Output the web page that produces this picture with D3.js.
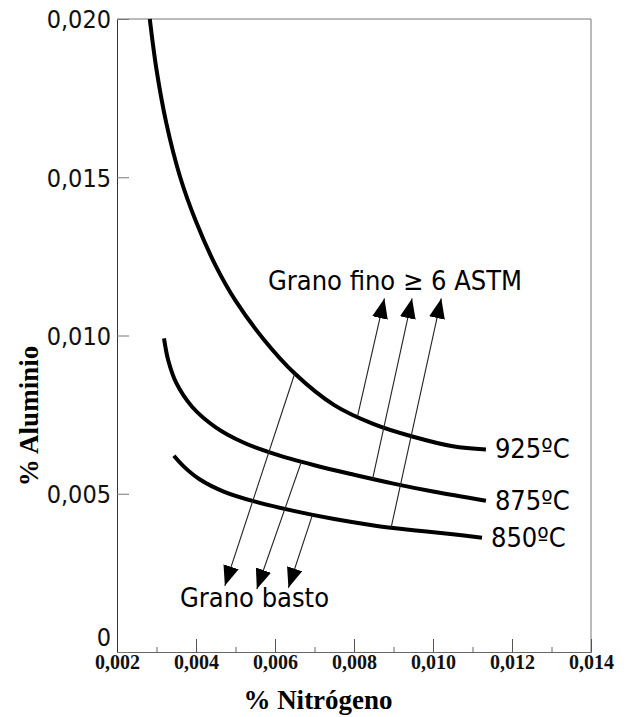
<!DOCTYPE html>
<html>
<head>
<meta charset="utf-8">
<script src="https://cdn.jsdelivr.net/npm/d3@7"></script>
<style>
  body { margin: 0; background: #fff; }
  svg { display: block; }
  .sans { font-family: "DejaVu Sans Condensed", "DejaVu Sans", sans-serif; font-stretch: condensed; }
  .serif { font-family: "Liberation Serif", "Times New Roman", serif; font-weight: bold; }
</style>
</head>
<body>
<svg width="632" height="717"></svg>
<script>
// curves: % N vs % Al
var n925 = [0.00283, 0.00300, 0.00325, 0.00360, 0.00400, 0.00450, 0.00500, 0.00570, 0.00650, 0.00750, 0.00850, 0.00950, 0.01050, 0.01134];
var al925 = [0.0200, 0.0184, 0.0167, 0.0150, 0.0136, 0.0122, 0.0111, 0.0099, 0.0088, 0.0078, 0.0072, 0.0068, 0.0065, 0.0064];
var n875 = [0.00319, 0.00330, 0.00350, 0.00390, 0.00450, 0.00520, 0.00600, 0.00700, 0.00800, 0.00900, 0.01000, 0.01134];
var al875 = [0.00991, 0.00920, 0.00850, 0.00775, 0.00710, 0.00662, 0.00625, 0.00590, 0.00560, 0.00532, 0.00507, 0.00478];
var n850 = [0.00344, 0.00370, 0.00410, 0.00470, 0.00550, 0.00650, 0.00750, 0.00850, 0.00950, 0.01050, 0.01124];
var al850 = [0.00620, 0.00585, 0.00545, 0.00507, 0.00475, 0.00445, 0.00420, 0.00400, 0.00385, 0.00372, 0.00361];
var curveNames = ["925ºC", "875ºC", "850ºC"];

// arrows: start on a curve, end at the tip
var upFromN = [0.00809, 0.00847, 0.00894];
var upFromAl = [0.00745, 0.00546, 0.00393];
var upToN = [0.00877, 0.00947, 0.01021];
var upToAl = [0.01117, 0.01117, 0.01117];
var downFromN = [0.00650, 0.00667, 0.00695];
var downFromAl = [0.00880, 0.00602, 0.00434];
var downToN = [0.00473, 0.00554, 0.00634];
var downToAl = [0.00209, 0.00199, 0.00203];

var xTicks = [0.002, 0.004, 0.006, 0.008, 0.010, 0.012, 0.014];
var xTickLabels = ["0,002", "0,004", "0,006", "0,008", "0,010", "0,012", "0,014"];
var xMinorTicks = [0.003, 0.005, 0.007, 0.009, 0.011, 0.013];
var yTicks = [0, 0.005, 0.010, 0.015, 0.020];
var yTickLabels = ["0", "0,005", "0,010", "0,015", "0,020"];

var svg = d3.select("svg"),
	plotLeft = 117, plotRight = 591, plotTop = 19, plotBottom = 652;

var x = d3.scaleLinear().domain([0.002, 0.014]).range([plotLeft, plotRight]);
var y = d3.scaleLinear().domain([0, 0.020]).range([plotBottom, plotTop]);

// frame top and right
svg.append("path")
	.attr("d", "M" + plotLeft + "," + plotTop + "H" + plotRight + "V" + plotBottom)
	.attr("fill", "none")
	.attr("stroke", "#777")
	.attr("stroke-width", 1);

// x axis
var gx = svg.append("g")
	.attr("transform", "translate(0," + plotBottom + ")")
	.call(d3.axisBottom(x).tickValues(xMinorTicks).tickSize(-5).tickFormat(""));
gx.select(".domain").remove();
gx.selectAll("line").attr("stroke", "#666");

var gx2 = svg.append("g")
	.attr("transform", "translate(0," + plotBottom + ")")
	.call(d3.axisBottom(x).tickValues(xTicks).tickSize(-13).tickPadding(3)
		.tickFormat(function(d, i) { return xTickLabels[i]; }));
gx2.select(".domain").attr("stroke", "#666");
gx2.selectAll("line").attr("stroke", "#555");
gx2.selectAll("text")
	.attr("class", "serif")
	.attr("font-size", 20)
	.attr("fill", "#111");

// y axis
var gy = svg.append("g")
	.attr("transform", "translate(" + plotLeft + ",0)")
	.call(d3.axisLeft(y).tickValues(yTicks).tickSize(-12).tickPadding(6)
		.tickFormat(function(d, i) { return yTickLabels[i]; }));
gy.select(".domain").attr("stroke", "#333");
gy.selectAll("line").attr("stroke", "#777");
gy.selectAll("text")
	.attr("class", "sans")
	.attr("font-size", 25)
	.attr("fill", "#111")
	.attr("dy", function(d) { return d === 0 ? "-0.25em" : "0.35em"; });

// curves
var line = d3.line()
	.x(function(d) { return x(d[0]); })
	.y(function(d) { return y(d[1]); })
	.curve(d3.curveCatmullRom.alpha(0.5));

var curves = [
	d3.zip(n925, al925),
	d3.zip(n875, al875),
	d3.zip(n850, al850)
];

svg.selectAll(".curve")
	.data(curves)
	.enter()
	.append("path")
	.attr("class", "curve")
	.attr("d", line)
	.attr("fill", "none")
	.attr("stroke", "#000")
	.attr("stroke-width", 4);

svg.selectAll(".curveLabel")
	.data(curves)
	.enter()
	.append("text")
	.attr("class", "sans")
	.attr("font-size", 27)
	.attr("x", function(d) { return x(d[d.length - 1][0]) + 9; })
	.attr("y", function(d) { return y(d[d.length - 1][1]) + 9; })
	.text(function(d, i) { return curveNames[i]; });

// arrows
svg.append("defs")
	.append("marker")
	.attr("id", "head")
	.attr("viewBox", "0 -4 10 8")
	.attr("refX", 10)
	.attr("refY", 0)
	.attr("markerUnits", "userSpaceOnUse")
	.attr("markerWidth", 20)
	.attr("markerHeight", 16)
	.attr("orient", "auto")
	.append("path")
	.attr("d", "M0,-4L10,0L0,4Z")
	.attr("fill", "#000");

var arrows = [];
upFromN.forEach(function(v, i) {
	arrows.push([v, upFromAl[i], upToN[i], upToAl[i]]);
});
downFromN.forEach(function(v, i) {
	arrows.push([v, downFromAl[i], downToN[i], downToAl[i]]);
});

svg.selectAll(".arrow")
	.data(arrows)
	.enter()
	.append("line")
	.attr("class", "arrow")
	.attr("x1", function(d) { return x(d[0]); })
	.attr("y1", function(d) { return y(d[1]); })
	.attr("x2", function(d) { return x(d[2]); })
	.attr("y2", function(d) { return y(d[3]); })
	.attr("stroke", "#222")
	.attr("stroke-width", 1.1)
	.attr("marker-end", "url(#head)");

svg.append("text")
	.attr("class", "sans")
	.attr("font-size", 27)
	.attr("x", 268)
	.attr("y", 290)
	.text("Grano fino ≥ 6 ASTM");

svg.append("text")
	.attr("class", "sans")
	.attr("font-size", 27)
	.attr("x", 180)
	.attr("y", 607)
	.text("Grano basto");

// axis titles
svg.append("text")
	.attr("class", "serif")
	.attr("font-size", 27)
	.attr("text-anchor", "middle")
	.attr("x", 318)
	.attr("y", 709)
	.text("% Nitrógeno");

svg.append("text")
	.attr("class", "serif")
	.attr("font-size", 27)
	.attr("text-anchor", "middle")
	.attr("transform", "translate(38,416) rotate(-90)")
	.text("% Aluminio");
</script>
</body>
</html>
